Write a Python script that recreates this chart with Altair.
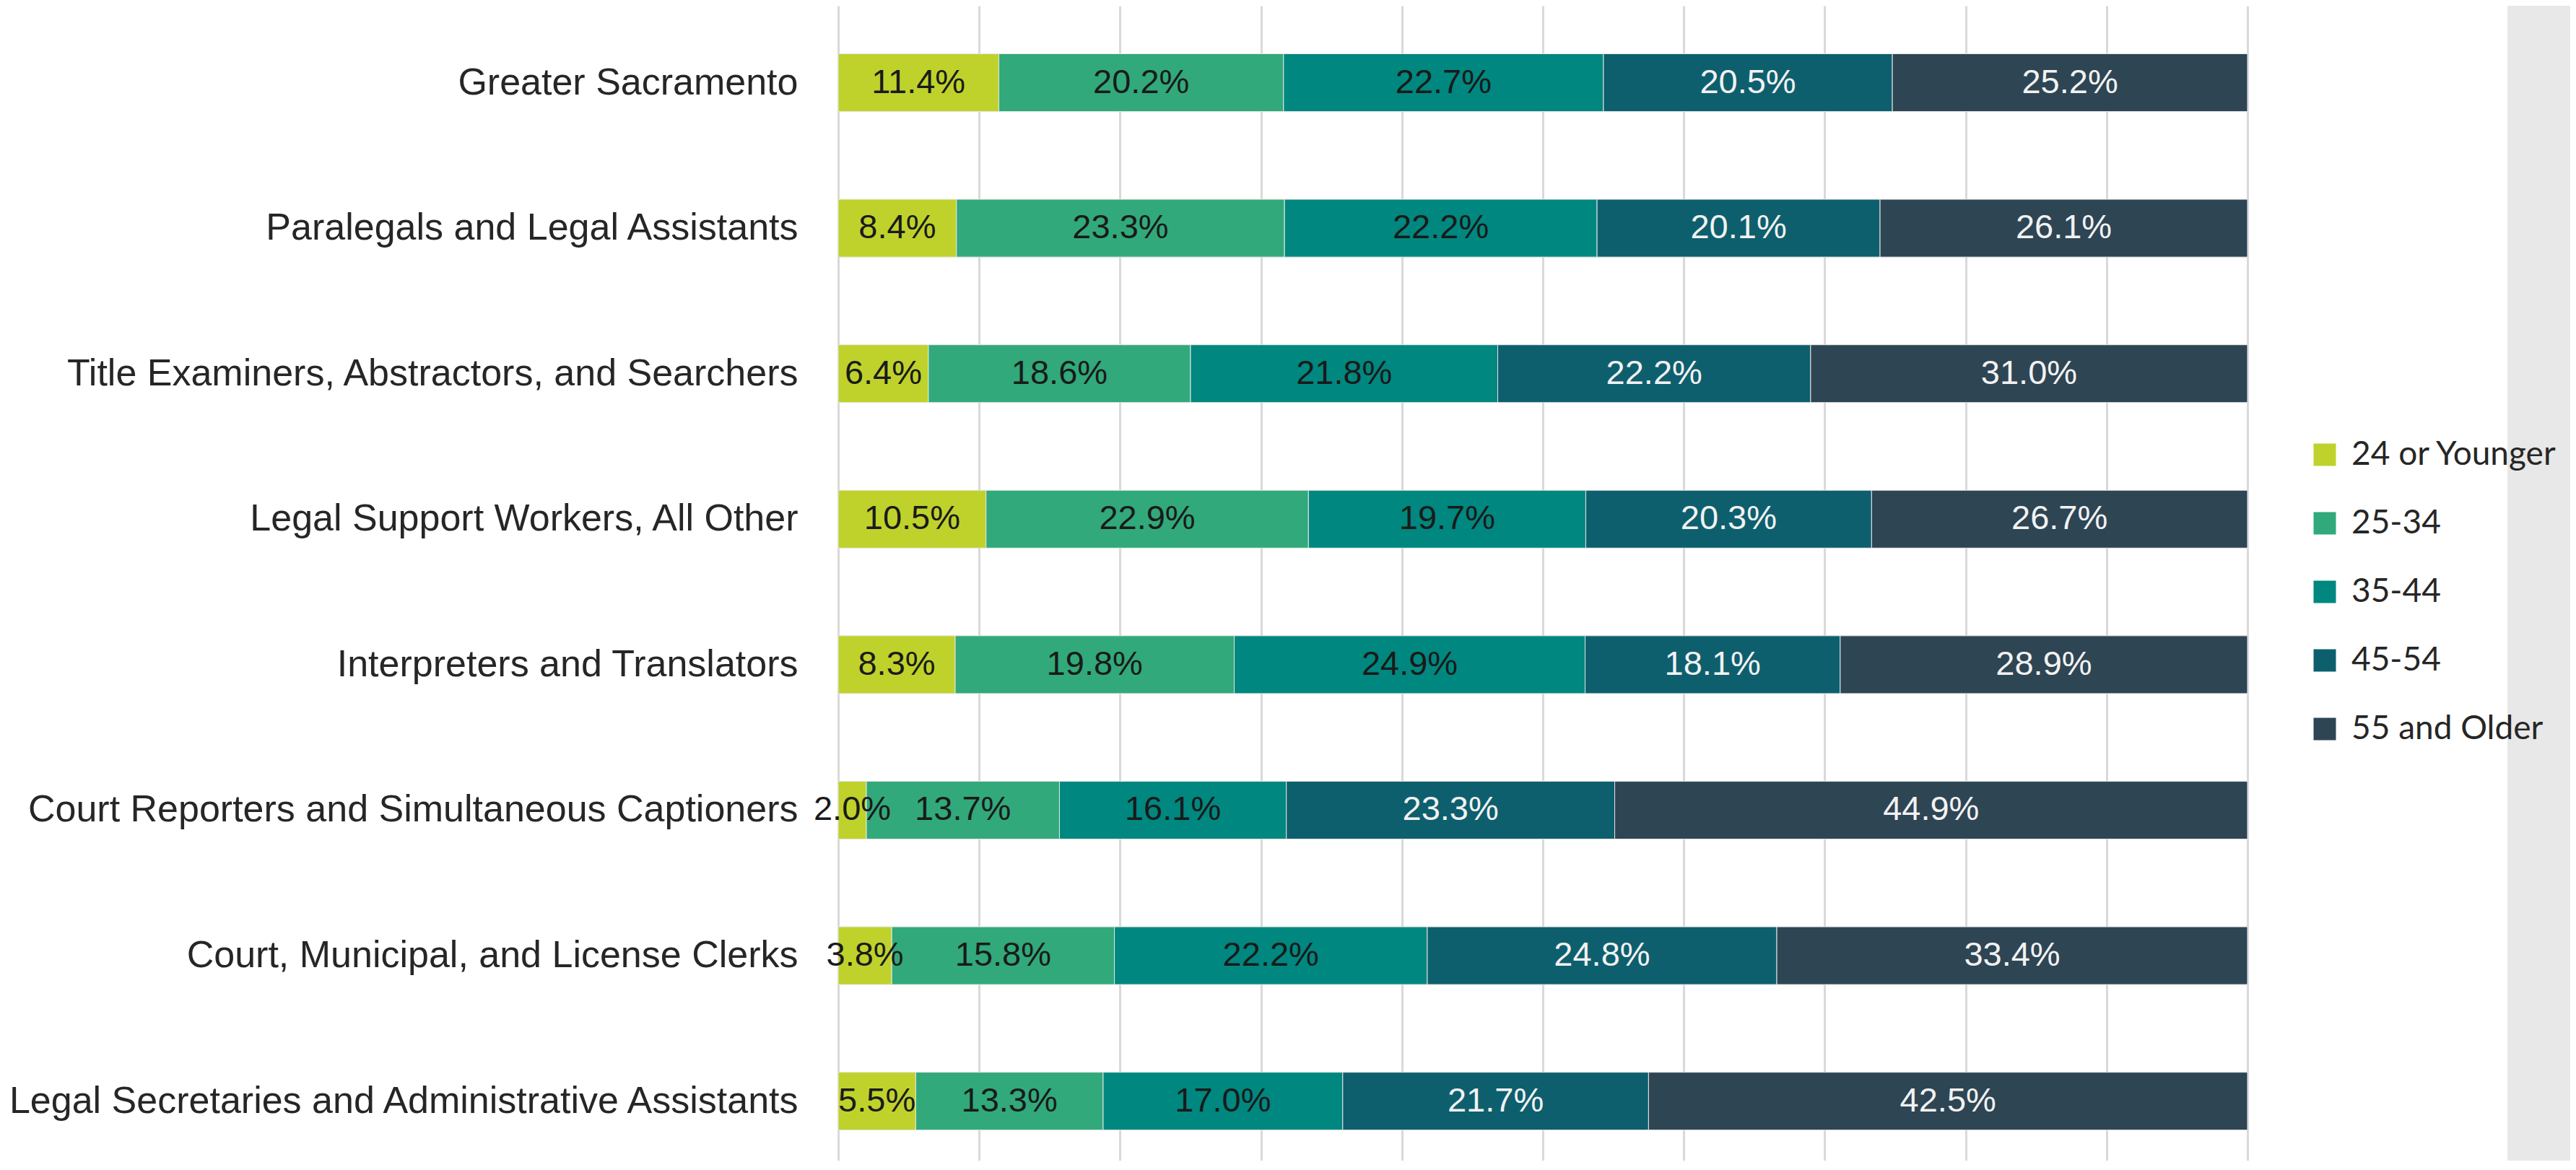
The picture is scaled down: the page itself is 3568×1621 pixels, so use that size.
import altair as alt
import pandas as pd

categories = [
    "Greater Sacramento",
    "Paralegals and Legal Assistants",
    "Title Examiners, Abstractors, and Searchers",
    "Legal Support Workers, All Other",
    "Interpreters and Translators",
    "Court Reporters and Simultaneous Captioners",
    "Court, Municipal, and License Clerks",
    "Legal Secretaries and Administrative Assistants",
]
age_groups = ["24 or Younger", "25-34", "35-44", "45-54", "55 and Older"]
colors = ["#BFD22B", "#31A97B", "#00877F", "#0E5F6E", "#2E4554"]

age_24_or_younger = [11.4, 8.4, 6.4, 10.5, 8.3, 2.0, 3.8, 5.5]
age_25_34 = [20.2, 23.3, 18.6, 22.9, 19.8, 13.7, 15.8, 13.3]
age_35_44 = [22.7, 22.2, 21.8, 19.7, 24.9, 16.1, 22.2, 17.0]
age_45_54 = [20.5, 20.1, 22.2, 20.3, 18.1, 23.3, 24.8, 21.7]
age_55_and_older = [25.2, 26.1, 31.0, 26.7, 28.9, 44.9, 33.4, 42.5]

grid_ticks = [0.0, 0.1, 0.2, 0.3, 0.4, 0.5, 0.6, 0.7, 0.8, 0.9, 1.0]

series = [age_24_or_younger, age_25_34, age_35_44, age_45_54, age_55_and_older]
rows = []
for i, cat in enumerate(categories):
    for j, g in enumerate(age_groups):
        rows.append({"category": cat, "group": g, "order": j, "value": series[j][i]})
df = pd.DataFrame(rows)

y_enc = alt.Y(
    "category:N",
    sort=categories,
    scale=alt.Scale(paddingInner=0.603, paddingOuter=0.27, align=0.611),
    axis=alt.Axis(
        title=None, ticks=False, domain=False, labelPadding=56, labelLimit=0,
        labelFontSize=52, labelFont="Liberation Sans", labelColor="#262626",
    ),
)

base = alt.Chart(df).transform_stack(
    stack="value",
    groupby=["category"],
    as_=["x0", "x1"],
    offset="normalize",
    sort=[alt.SortField("order", order="ascending")],
).transform_calculate(
    mid="(datum.x0 + datum.x1) / 2",
    label="format(datum.value, '.1f') + '%'",
)

bars = base.mark_bar(stroke="#e6e6e6", strokeWidth=1).encode(
    y=y_enc,
    x=alt.X(
        "x0:Q",
        scale=alt.Scale(domain=[0, 1], nice=False),
        axis=alt.Axis(
            title=None, labels=False, ticks=False, domain=False, grid=True,
            values=grid_ticks, gridColor="#d9d9d9", gridWidth=3,
        ),
    ),
    x2="x1:Q",
    color=alt.Color(
        "group:N",
        sort=age_groups,
        scale=alt.Scale(domain=age_groups, range=colors),
        legend=alt.Legend(
            title=None, orient="none", legendX=2036, legendY=599,
            symbolType="square", symbolSize=961, symbolStrokeWidth=0,
            labelFont="Lato", labelFontSize=46, labelColor="#262626",
            labelOffset=14, rowPadding=49, padding=0, labelLimit=0,
        ),
    ),
    order=alt.Order("order:Q"),
)

labels = base.mark_text(font="Liberation Sans", fontSize=47, baseline="middle", align="center").encode(
    y=alt.Y("category:N", sort=categories),
    x=alt.X("mid:Q"),
    text="label:N",
    color=alt.condition("datum.order >= 3", alt.value("#f2f2f2"), alt.value("#1a1a1a")),
)

strip = alt.Chart(pd.DataFrame({"a": [0]})).mark_rect(color="#e8e8e8").encode(
    x=alt.value(2312), x2=alt.value(2500), y=alt.value(-20), y2=alt.value(1700)
)

chart = alt.layer(strip, bars, labels).properties(
    width=1952,
    height=1600,
    autosize=alt.AutoSizeParams(type="none"),
    padding={"left": 1153, "top": 0, "right": 447, "bottom": 0},
    background="white",
).configure_view(stroke=None)

chart.save("out.html", embed_options={"renderer": "svg", "actions": False})
